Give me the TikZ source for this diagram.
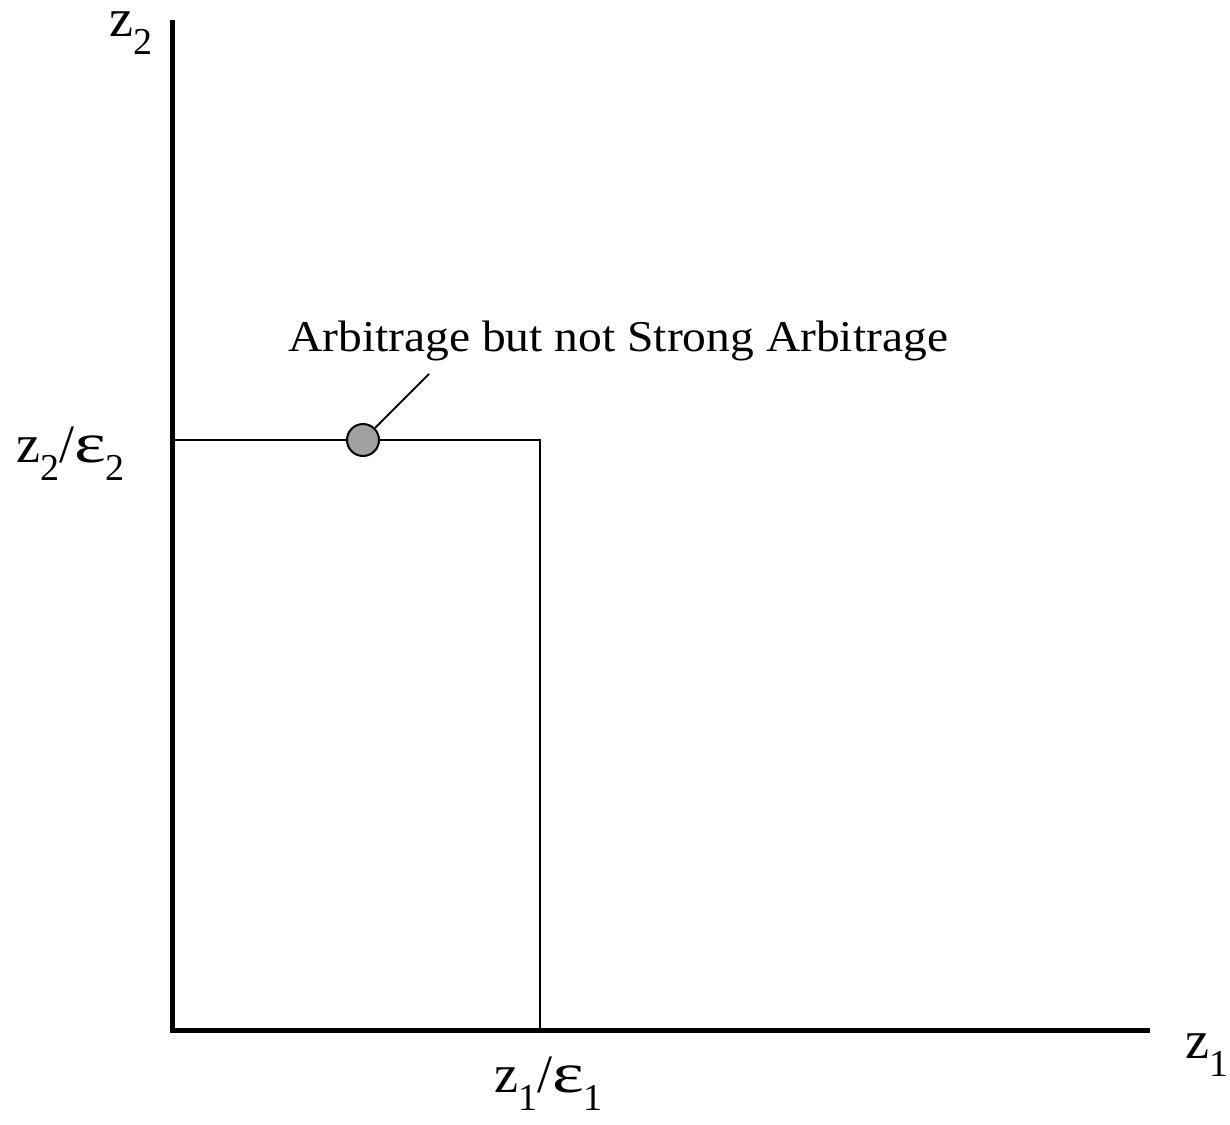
\documentclass[tikz,border=0pt]{standalone}
\usepackage{fontspec}
\setmainfont{Liberation Serif}
\newcommand{\mysub}[1]{{\fontsize{38}{40}\selectfont\raisebox{-18pt}{#1}}}
\newcommand{\myeps}{\scalebox{1.4}[1.05]{ε}}
\begin{document}
\begin{tikzpicture}[x=1pt,y=-1pt,
  axis/.style={line width=5pt},
  thin/.style={line width=2pt},
  lbl/.style={inner sep=0pt, font=\fontsize{54}{60}\selectfont},
  note/.style={inner sep=0pt, font=\fontsize{44}{50}\selectfont}]
\useasboundingbox (0,0) rectangle (1230,1124);
\coordinate (O) at (172,1030);
\coordinate (ytop) at (172,20);
\coordinate (xend) at (1150,1030);
\coordinate (q) at (540,440);
\coordinate (qx) at (540,1030);
\coordinate (qy) at (172,440);
\draw[axis] (ytop) -- (172,1032.5);
\draw[axis] (169.5,1030) -- (xend);
\draw[thin] (qy) -- (q) -- (qx);
\node[circle, draw, line width=2pt, fill={rgb,255:red,160;green,160;blue,160}, minimum size=32pt, inner sep=0pt] (dot) at (363,440) {};
\coordinate (lead) at (429,374);
\draw[thin] (dot.45) -- (lead);
\node[note, anchor=base west] (ann) at (288,351) {\scalebox{1.08}[1]{Arbitrage but not Strong Arbitrage}};
\node[lbl, anchor=base west] (zy) at (109,37) {\smash{z\mysub{2}}};
\node[lbl, anchor=base west] (zeps2) at (16,462) {z\mysub{2}/\myeps\mysub{2}};
\node[lbl, anchor=base west] (zx) at (1185,1058) {z\mysub{1}};
\node[lbl, anchor=base west] (zeps1) at (494,1092) {z\mysub{1}/\myeps\mysub{1}};
\end{tikzpicture}
\end{document}
